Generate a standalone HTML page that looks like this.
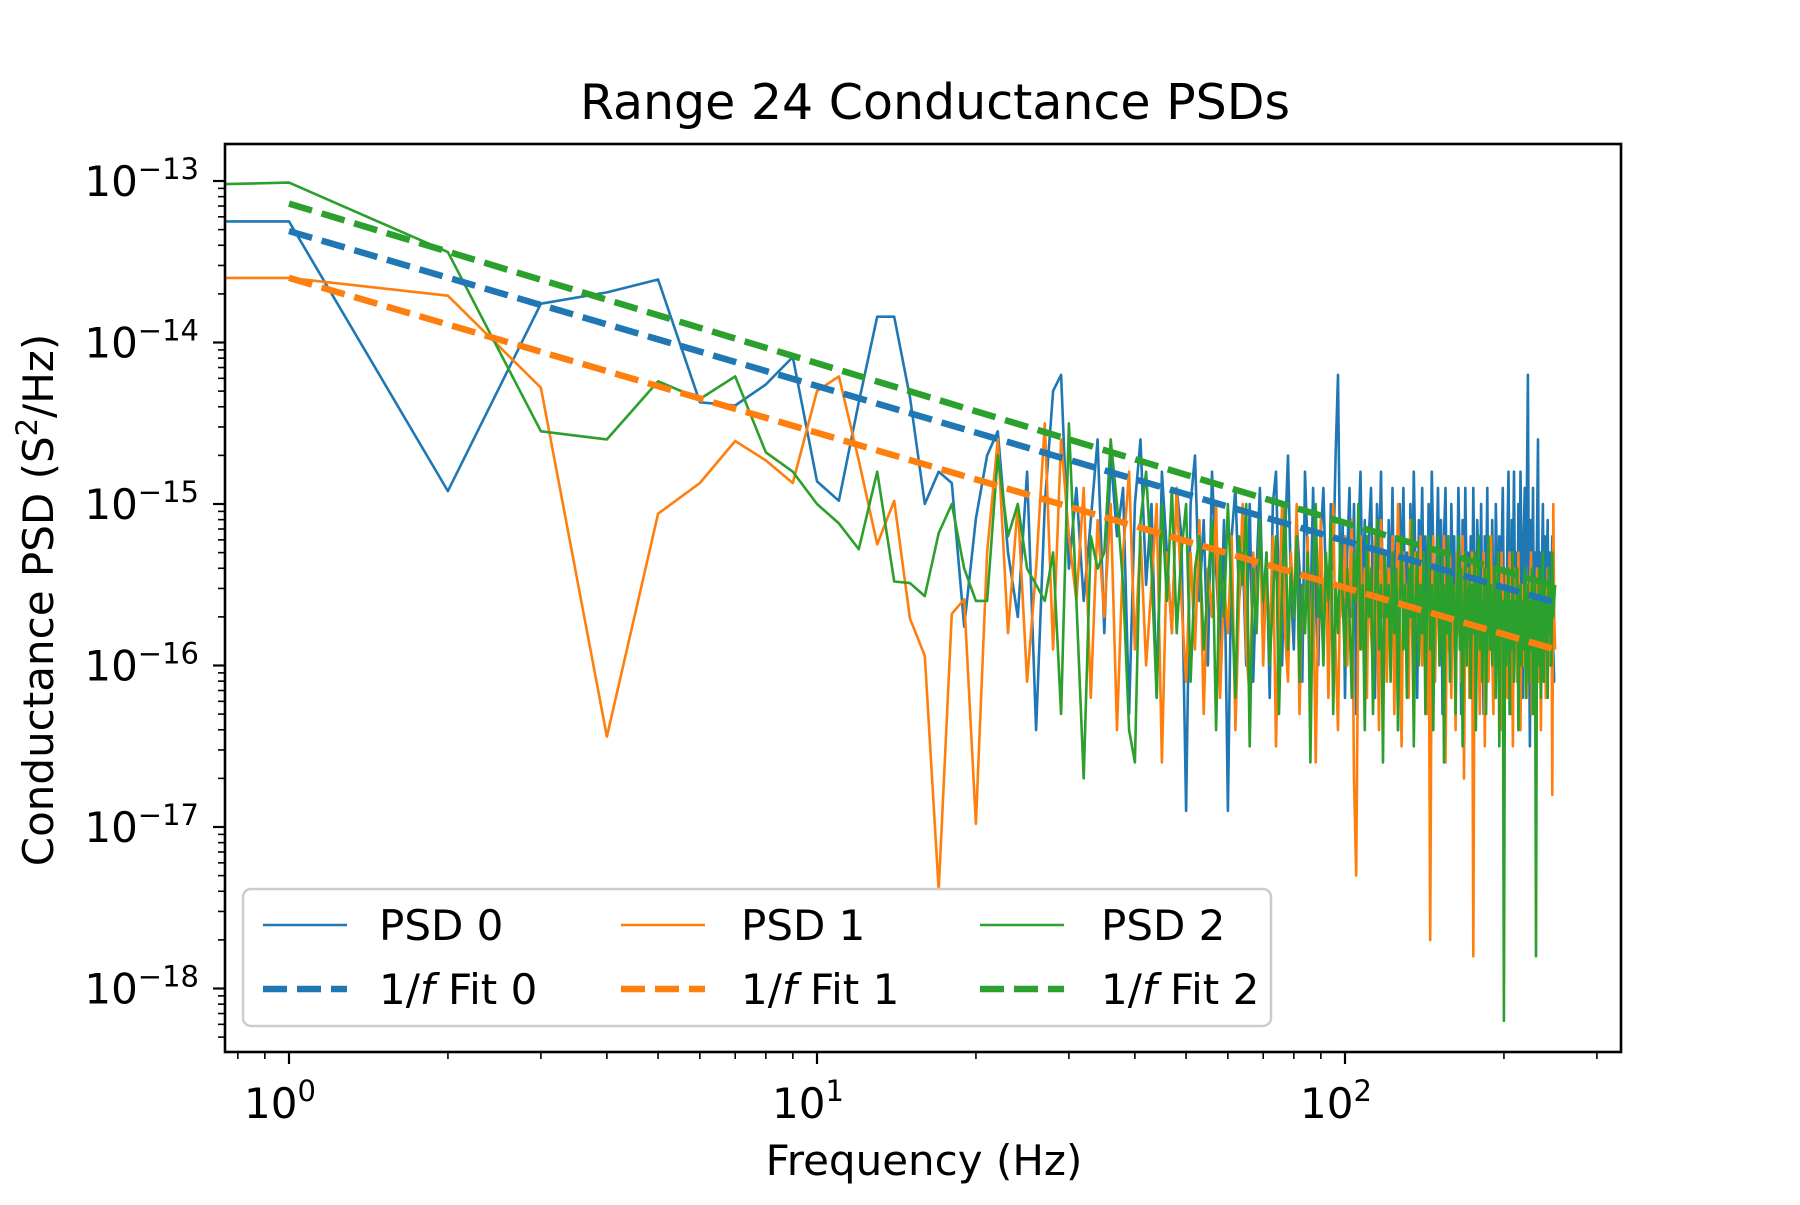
<!DOCTYPE html>
<html><head><meta charset="utf-8"><style>
html,body{margin:0;padding:0;background:#fff;}
svg text{font-family:"DejaVu Sans","Liberation Sans",sans-serif;fill:#000;}
</style></head>
<body>
<svg id="chart" xmlns="http://www.w3.org/2000/svg" width="1800" height="1200" viewBox="0 0 1800 1200">
<defs><clipPath id="plotclip"><rect x="225" y="144" width="1396" height="908"/></clipPath></defs>
<rect width="1800" height="1200" fill="#fff"/>
<text x="935" y="119" font-size="49" text-anchor="middle">Range 24 Conductance PSDs</text>
<g id="series" clip-path="url(#plotclip)"></g>
<g id="axes"></g>
<text x="924" y="1175" font-size="42" text-anchor="middle">Frequency (Hz)</text>
<text transform="translate(53,600) rotate(-90)" font-size="42" text-anchor="middle">Conductance PSD (S<tspan dy="-16" font-size="29">2</tspan><tspan dy="16">/Hz)</tspan></text>
<g id="legend"></g>
</svg>
<script>
const seriesNames = ["PSD 0","PSD 1","PSD 2"];
const fitNames = ["1/f Fit 0","1/f Fit 1","1/f Fit 2"];
const colors = ["#1f77b4","#ff7f0e","#2ca02c"];
const zeroFreqExp = [-13.25,-13.6,-13.02];
// log10 PSD values for f = 1..250 Hz
const psd0Exp = [-13.25,-14.92,-13.76,-13.69,-13.61,-14.37,-14.39,-14.26,-14.09,-14.86,-14.98,-14.37,-13.84,-13.84,-14.34,-15.0,-14.8,-14.87,-15.76,-15.09,
-14.7,-14.55,-15.3,-15.7,-14.8,-16.4,-15.0,-14.3,-14.2,-15.4,
-14.9,-15.6,-15.1,-14.6,-15.8,-14.7,-15.2,-14.9,-16.3,-15.0,
-14.6,-15.5,-15.0,-16.2,-14.8,-15.3,-15.8,-14.9,-15.2,-16.9,
-15.0,-14.7,-15.6,-15.1,-16.0,-14.8,-15.4,-15.9,-15.1,-16.9,
-15.2,-14.9,-15.6,-15.3,-16.0,-15.0,-16.1,-15.4,-14.9,-15.7,
-15.3,-16.2,-15.0,-14.8,-15.6,-16.0,-15.2,-14.7,-15.5,-15.9,
-15.1,-15.4,-16.1,-14.8,-15.3,-15.7,-14.9,-15.6,-16.0,-15.2,
-14.9,-15.5,-15.8,-15.0,-15.4,-14.7,-14.2,-15.6,-15.1,-16.2,
-15.3,-14.9,-15.7,-15.0,-16.3,-15.2,-14.8,-15.6,-15.1,-15.9,
-15.2,-14.9,-15.6,-16.2,-15.0,-15.4,-14.8,-15.7,-15.3,-16.0,
-15.1,-15.6,-14.9,-15.8,-15.2,-16.4,-15.0,-15.5,-14.9,-15.7,
-15.3,-16.1,-15.0,-15.6,-14.8,-15.4,-16.2,-15.1,-15.5,-14.9,
-15.7,-15.2,-16.0,-15.0,-15.6,-14.8,-15.3,-16.1,-15.4,-14.9,
-15.6,-15.1,-16.3,-15.2,-14.9,-15.7,-15.4,-16.0,-15.0,-15.5,
-15.2,-16.1,-15.6,-14.9,-15.4,-16.3,-15.1,-15.7,-14.9,-15.5,
-15.3,-16.0,-15.2,-15.8,-14.9,-15.6,-16.2,-15.1,-15.4,-15.9,
-15.0,-15.7,-16.3,-15.2,-15.5,-14.9,-16.0,-15.3,-15.8,-15.1,
-15.6,-16.2,-15.0,-15.4,-15.9,-15.2,-16.4,-15.3,-14.9,-15.7,
-15.4,-16.0,-15.2,-14.8,-15.6,-16.3,-15.1,-15.5,-14.8,-15.7,
-15.3,-16.1,-15.0,-15.6,-14.8,-15.4,-16.2,-15.2,-14.9,-15.5,
-15.0,-14.2,-15.7,-16.5,-15.1,-15.6,-14.9,-16.0,-15.3,-15.7,
-15.2,-14.6,-15.9,-15.3,-16.1,-15.4,-15.0,-15.8,-15.2,-16.0,
-15.4,-15.1,-15.8,-15.3,-16.0,-15.5,-15.2,-15.9,-16.1,-16.1];
const psd1Exp = [-13.6,-13.71,-14.28,-16.44,-15.06,-14.87,-14.61,-14.73,-14.87,-14.3,-14.21,-14.73,-15.25,-14.98,-15.71,-15.94,-17.39,-15.68,-15.59,-16.98,
-15.3,-14.6,-15.8,-15.0,-16.1,-15.4,-14.5,-15.9,-14.6,-15.2,
-15.6,-14.9,-16.2,-15.1,-15.7,-15.0,-16.4,-15.3,-14.8,-15.9,
-15.2,-16.0,-15.5,-15.0,-16.6,-15.3,-15.8,-14.9,-15.6,-16.1,
-15.3,-15.9,-15.1,-16.3,-15.4,-15.7,-15.0,-16.2,-15.5,-15.8,
-15.2,-16.4,-15.6,-15.0,-15.9,-16.2,-15.3,-15.7,-15.1,-16.0,
-15.4,-15.9,-15.2,-16.5,-15.6,-15.0,-15.8,-16.1,-15.3,-15.7,
-15.0,-16.3,-15.5,-15.8,-15.2,-16.0,-15.4,-16.6,-15.6,-15.1,
-15.8,-15.3,-16.2,-15.5,-15.0,-15.9,-16.4,-15.4,-15.7,-15.2,
-16.0,-15.5,-15.1,-16.7,-17.3,-15.6,-15.2,-15.9,-15.4,-16.2,
-15.3,-15.8,-16.0,-15.2,-15.6,-16.4,-15.1,-15.7,-15.5,-16.1,
-15.4,-15.9,-15.2,-16.3,-15.6,-15.0,-15.8,-16.5,-15.3,-15.7,
-15.5,-16.2,-15.1,-15.8,-16.4,-15.3,-15.6,-15.9,-15.2,-16.0,
-15.5,-15.8,-16.3,-15.4,-17.7,-15.6,-15.2,-16.1,-15.7,-15.3,
-16.0,-15.5,-15.8,-15.2,-16.6,-15.6,-15.9,-15.3,-16.2,-15.5,
-15.7,-16.4,-15.3,-15.8,-15.5,-16.1,-15.2,-16.7,-15.6,-15.9,
-15.4,-16.2,-15.7,-15.3,-17.8,-15.6,-16.0,-15.4,-15.8,-16.3,
-15.5,-15.9,-15.3,-16.5,-15.7,-15.4,-16.1,-15.6,-15.2,-15.9,
-16.3,-15.5,-15.8,-15.4,-16.0,-15.6,-16.4,-15.3,-15.7,-15.5,
-15.9,-15.4,-16.2,-15.6,-15.3,-16.0,-15.7,-16.5,-15.4,-15.8,
-15.6,-16.1,-15.3,-15.9,-16.4,-15.5,-15.7,-16.0,-15.4,-15.8,
-16.2,-15.5,-15.9,-15.6,-15.3,-16.3,-15.7,-15.5,-16.0,-15.8,
-15.4,-16.1,-15.7,-15.5,-16.4,-15.8,-15.6,-15.9,-15.5,-16.2,
-15.7,-15.4,-16.0,-15.6,-15.9,-15.5,-16.8,-15.0,-15.7,-15.9];
const psd2Exp = [-13.01,-13.44,-14.55,-14.6,-14.24,-14.35,-14.21,-14.68,-14.8,-15.0,-15.12,-15.28,-14.8,-15.48,-15.49,-15.57,-15.18,-15.0,-15.4,-15.6,
-15.6,-14.7,-15.2,-15.0,-15.4,-15.5,-15.6,-15.3,-16.3,-14.5,
-15.6,-16.7,-15.2,-15.4,-15.3,-14.6,-15.0,-15.5,-16.4,-16.6,
-15.1,-14.8,-15.4,-16.2,-15.0,-15.6,-14.9,-15.8,-15.3,-15.0,
-16.1,-15.4,-15.2,-15.9,-15.5,-15.1,-16.4,-15.3,-15.7,-15.0,
-15.6,-16.2,-15.2,-15.5,-15.0,-16.5,-15.4,-15.8,-15.1,-15.6,
-15.3,-16.0,-15.6,-15.2,-16.3,-15.5,-15.0,-15.9,-15.4,-15.7,
-15.2,-16.1,-15.5,-15.8,-15.3,-16.6,-15.4,-15.0,-15.7,-15.5,
-16.0,-15.3,-15.6,-15.1,-16.3,-15.5,-15.8,-15.2,-15.6,-16.0,
-15.4,-15.7,-16.2,-15.3,-15.6,-15.0,-15.9,-15.5,-16.4,-15.2,
-15.7,-15.4,-16.3,-15.6,-15.1,-15.9,-15.5,-16.6,-15.3,-15.7,
-15.5,-16.1,-15.3,-15.8,-15.4,-16.4,-15.6,-15.2,-15.9,-15.5,
-16.2,-15.4,-15.7,-15.1,-16.5,-15.6,-15.3,-16.0,-15.5,-15.8,
-15.3,-16.3,-15.6,-15.2,-15.9,-15.5,-16.4,-15.4,-15.7,-15.2,
-16.0,-15.6,-15.3,-16.6,-15.5,-15.8,-15.2,-16.1,-15.4,-15.7,
-15.5,-16.3,-15.6,-15.2,-15.9,-15.4,-16.5,-15.7,-15.3,-16.0,
-15.6,-15.4,-16.2,-15.5,-15.8,-15.3,-16.4,-15.6,-15.2,-15.9,
-15.5,-16.1,-15.7,-15.4,-16.3,-15.6,-15.2,-15.9,-15.5,-16.0,
-15.7,-15.4,-16.2,-15.6,-15.3,-16.5,-15.5,-15.8,-15.6,-18.2,
-15.5,-16.0,-15.7,-15.4,-16.3,-15.6,-15.9,-15.3,-16.1,-15.6,
-15.8,-15.4,-16.4,-15.7,-15.5,-16.0,-15.6,-15.9,-15.4,-16.2,
-15.7,-15.5,-16.1,-15.6,-15.9,-15.4,-16.3,-15.7,-15.5,-17.8,
-15.6,-16.0,-15.4,-15.8,-16.2,-15.6,-15.3,-16.1,-15.5,-15.9,
-15.6,-16.2,-15.4,-15.8,-15.5,-16.0,-15.3,-15.7,-15.6,-15.5];
// 1/f fits: log10 value at f=1 and f=250
const fitStartExp = [-13.31,-13.6,-13.14];
const fitEndExp = [-15.61,-15.9,-15.51];
const fitFreqs = [1,250];
const xTickLabels = ["0","1","2"];
const yTickLabels = ["-13","-14","-15","-16","-17","-18"];

const NS="http://www.w3.org/2000/svg";
const X0=289, XDEC=528, Y0=181, YDEC=161.5;
const L=225,R=1621,T=144,B=1052;
function xs(f){return X0+XDEC*Math.log10(f);}
function xl(lg){return X0+XDEC*lg;}
function ys(e){return Y0+(-13-e)*YDEC;}
function mk(tag,attrs,parent){const el=document.createElementNS(NS,tag);for(const k in attrs)el.setAttribute(k,attrs[k]);parent.appendChild(el);return el;}

const sg=document.getElementById('series');
const allPsd=[psd0Exp,psd1Exp,psd2Exp];
allPsd.forEach((arr,i)=>{
  let d="M"+(L-5)+","+ys(zeroFreqExp[i]).toFixed(1);
  arr.forEach((e,k)=>{d+=" L"+xs(k+1).toFixed(1)+","+ys(e).toFixed(1);});
  const p=mk('path',{d:d,fill:'none',stroke:colors[i],'stroke-width':2.6,'stroke-linejoin':'round'},sg);
  
  
});
[0,1,2].forEach(i=>{
  const p=mk('line',{x1:xs(fitFreqs[0]),y1:ys(fitStartExp[i]),x2:xs(fitFreqs[1]),y2:ys(fitEndExp[i]),stroke:colors[i],'stroke-width':6.5,'stroke-dasharray':'24,10'},sg);
  
  
});

const ag=document.getElementById('axes');
for(let d=-1;d<=2;d++){
  for(let m=1;m<10;m++){
    const lg=d+Math.log10(m);const x=xl(lg);
    if(x<L-0.5||x>R+0.5)continue;
    const major=(m===1);
    const t=mk('line',{x1:x,y1:B,x2:x,y2:B+(major?12:7),stroke:'#000','stroke-width':major?2.2:1.6},ag);
    
    
  }
}
xTickLabels.forEach((lab,i)=>{
  const t=mk('text',{x:xl(+lab)-9,y:1118,'font-size':42,'text-anchor':'middle'},ag);
  t.textContent="10";
  const s=mk('tspan',{dy:-17,'font-size':29},t);s.textContent=lab;
  
  
});
for(let d=-19;d<=-13;d++){
  for(let m=1;m<10;m++){
    const e=d+Math.log10(m);const y=ys(e);
    if(y<T-0.5||y>B+0.5)continue;
    const major=(m===1);
    const t=mk('line',{x1:L,y1:y,x2:L-(major?12:7),y2:y,stroke:'#000','stroke-width':major?2.2:1.6},ag);
    
    
  }
}
yTickLabels.forEach(lab=>{
  const y=ys(+lab);
  const t=mk('text',{x:199,y:y+15,'font-size':42,'text-anchor':'end'},ag);
  const a=mk('tspan',{},t);a.textContent="10";
  const s=mk('tspan',{dy:-17,'font-size':29},t);s.textContent=lab.replace('-','\u2212');
  
  
});
const frame=mk('rect',{x:L,y:T,width:R-L,height:B-T,fill:'none',stroke:'#000','stroke-width':2.6},ag);



const lg=document.getElementById('legend');
const box=mk('rect',{x:243,y:889,width:1028,height:137,rx:8,fill:'#fff','fill-opacity':0.8,stroke:'#cccccc','stroke-width':2.5},lg);


const colX=[263,621,980];
const txtX=[379,741,1101];
[0,1,2].forEach(i=>{
  const e1=mk('line',{x1:colX[i],y1:925,x2:colX[i]+84,y2:925,stroke:colors[i],'stroke-width':2.6},lg);
  
  
  const t1=mk('text',{x:txtX[i],y:940,'font-size':42},lg);t1.textContent=seriesNames[i];
  
  
  const e2=mk('line',{x1:colX[i],y1:989,x2:colX[i]+84,y2:989,stroke:colors[i],'stroke-width':6.5,'stroke-dasharray':'24,10'},lg);
  
  
  const t2=mk('text',{x:txtX[i],y:1004,'font-size':42},lg);
  const a=mk('tspan',{},t2);a.textContent="1/";
  const b=mk('tspan',{'font-style':'italic'},t2);b.textContent="f";
  const c=mk('tspan',{},t2);c.textContent=" Fit "+i;
  
  
});
</script>
</body></html>
